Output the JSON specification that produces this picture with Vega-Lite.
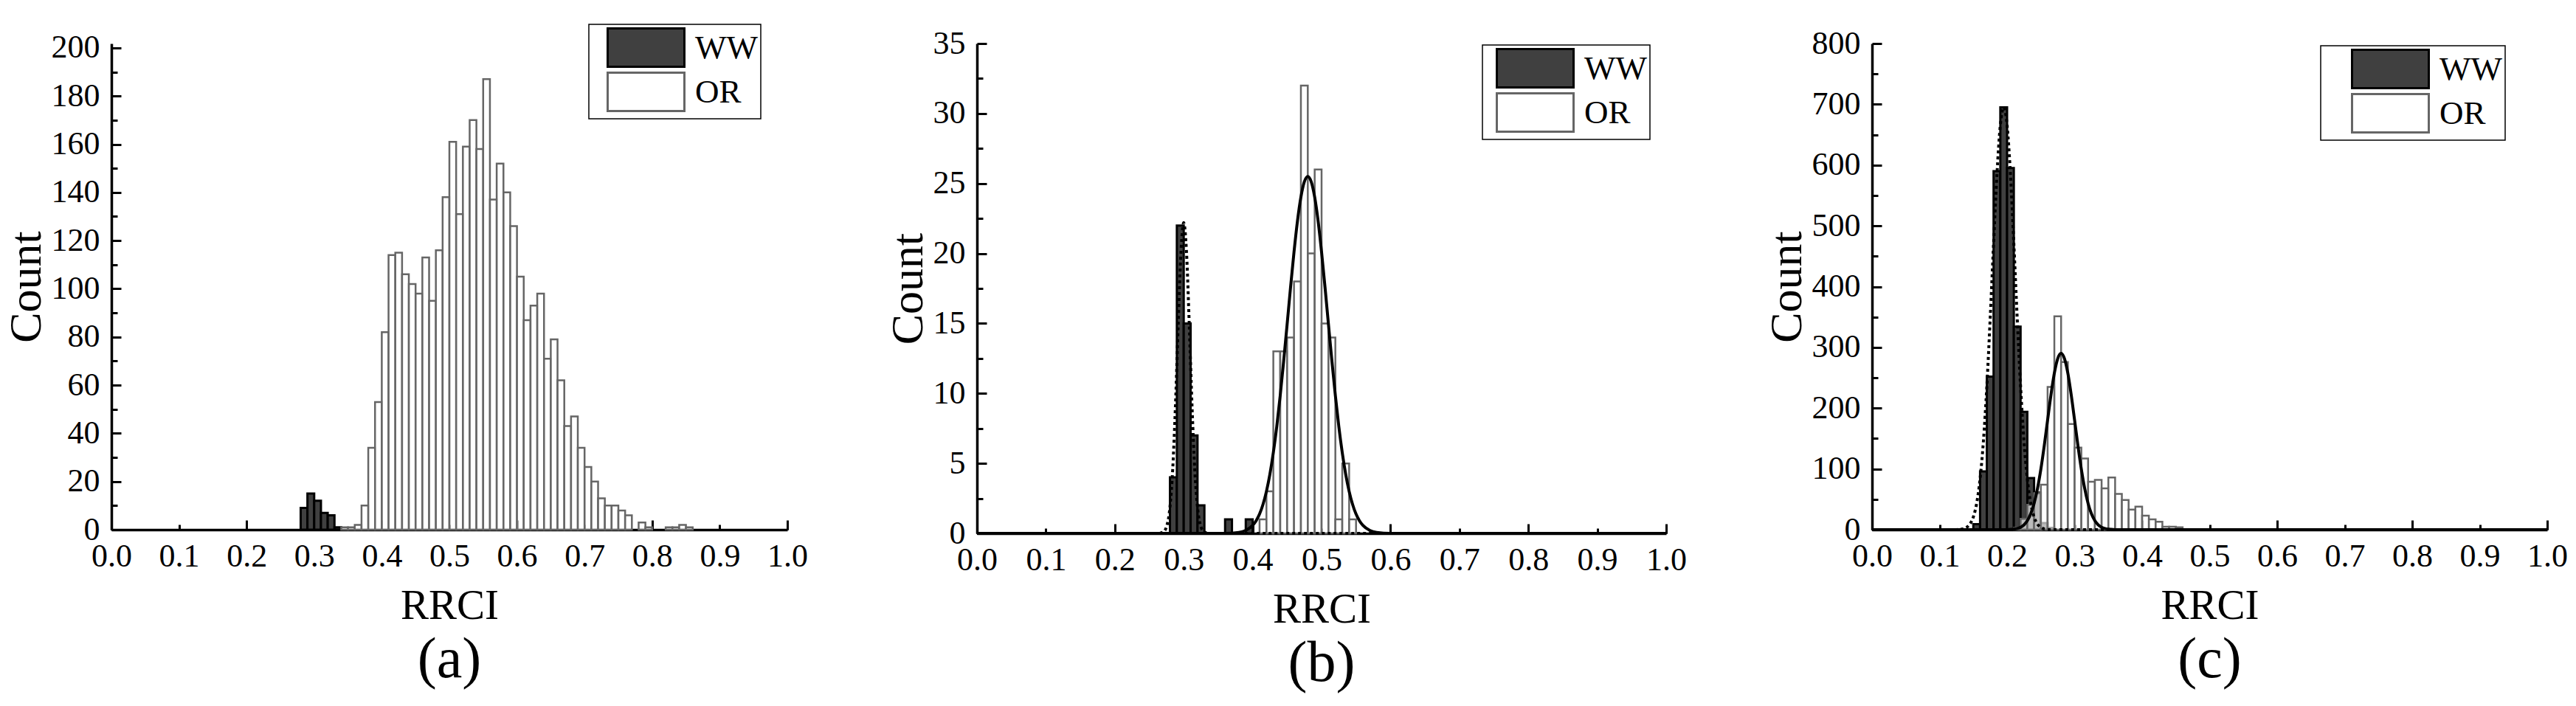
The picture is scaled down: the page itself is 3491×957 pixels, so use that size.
{
  "$schema": "https://vega.github.io/schema/vega-lite/v6.json",
  "background": "white",
  "padding": {"left": 4, "top": 32, "right": 4, "bottom": 4},
  "spacing": 104,
  "config": {
    "view": {"stroke": null},
    "font": "Liberation Serif",
    "axis": {
      "domainColor": "black", "domainWidth": 3.5, "tickColor": "black", "tickWidth": 3,
      "labelFont": "Liberation Serif", "labelFontSize": 44, "labelColor": "black",
      "titleFont": "Liberation Serif", "titleFontSize": 57, "titleFontWeight": "normal", "titleColor": "black",
      "labelFlush": false, "labelOverlap": false, "grid": false, "zindex": 1
    },
    "axisY": {"titleFontSize": 62},
    "legend": {
      "orient": "none", "strokeColor": "black", "strokeWidth": 1.5, "fillColor": "white",
      "padding": 4, "symbolStrokeWidth": 3, "labelOffset": 39,
      "labelFont": "Liberation Serif", "labelFontSize": 45, "labelColor": "black", "rowPadding": -10
    },
    "title": {"font": "Liberation Serif", "fontSize": 78, "fontWeight": "normal", "color": "black", "orient": "bottom", "anchor": "middle", "offset": 7}
  },
  "resolve": {
    "scale": {"fill": "independent", "stroke": "independent", "x": "independent", "y": "independent"},
    "legend": {"fill": "independent", "stroke": "independent"}
  },
  "datasets": {
    "a_bars": [
      {"group": "WW", "lo": 0.28, "hi": 0.29, "count": 9},
      {"group": "WW", "lo": 0.29, "hi": 0.30, "count": 15},
      {"group": "WW", "lo": 0.30, "hi": 0.31, "count": 12},
      {"group": "WW", "lo": 0.31, "hi": 0.32, "count": 7},
      {"group": "WW", "lo": 0.32, "hi": 0.33, "count": 6},
      {"group": "WW", "lo": 0.33, "hi": 0.34, "count": 1},
      {"group": "OR", "lo": 0.34, "hi": 0.35, "count": 1},
      {"group": "OR", "lo": 0.35, "hi": 0.36, "count": 1},
      {"group": "OR", "lo": 0.36, "hi": 0.37, "count": 2},
      {"group": "OR", "lo": 0.37, "hi": 0.38, "count": 10},
      {"group": "OR", "lo": 0.38, "hi": 0.39, "count": 34},
      {"group": "OR", "lo": 0.39, "hi": 0.40, "count": 53},
      {"group": "OR", "lo": 0.40, "hi": 0.41, "count": 82},
      {"group": "OR", "lo": 0.41, "hi": 0.42, "count": 114},
      {"group": "OR", "lo": 0.42, "hi": 0.43, "count": 115},
      {"group": "OR", "lo": 0.43, "hi": 0.44, "count": 106},
      {"group": "OR", "lo": 0.44, "hi": 0.45, "count": 102},
      {"group": "OR", "lo": 0.45, "hi": 0.46, "count": 98},
      {"group": "OR", "lo": 0.46, "hi": 0.47, "count": 113},
      {"group": "OR", "lo": 0.47, "hi": 0.48, "count": 95},
      {"group": "OR", "lo": 0.48, "hi": 0.49, "count": 116},
      {"group": "OR", "lo": 0.49, "hi": 0.50, "count": 138},
      {"group": "OR", "lo": 0.50, "hi": 0.51, "count": 161},
      {"group": "OR", "lo": 0.51, "hi": 0.52, "count": 131},
      {"group": "OR", "lo": 0.52, "hi": 0.53, "count": 159},
      {"group": "OR", "lo": 0.53, "hi": 0.54, "count": 170},
      {"group": "OR", "lo": 0.54, "hi": 0.55, "count": 158},
      {"group": "OR", "lo": 0.55, "hi": 0.56, "count": 187},
      {"group": "OR", "lo": 0.56, "hi": 0.57, "count": 137},
      {"group": "OR", "lo": 0.57, "hi": 0.58, "count": 152},
      {"group": "OR", "lo": 0.58, "hi": 0.59, "count": 140},
      {"group": "OR", "lo": 0.59, "hi": 0.60, "count": 126},
      {"group": "OR", "lo": 0.60, "hi": 0.61, "count": 105},
      {"group": "OR", "lo": 0.61, "hi": 0.62, "count": 87},
      {"group": "OR", "lo": 0.62, "hi": 0.63, "count": 93},
      {"group": "OR", "lo": 0.63, "hi": 0.64, "count": 98},
      {"group": "OR", "lo": 0.64, "hi": 0.65, "count": 71},
      {"group": "OR", "lo": 0.65, "hi": 0.66, "count": 79},
      {"group": "OR", "lo": 0.66, "hi": 0.67, "count": 62},
      {"group": "OR", "lo": 0.67, "hi": 0.68, "count": 43},
      {"group": "OR", "lo": 0.68, "hi": 0.69, "count": 47},
      {"group": "OR", "lo": 0.69, "hi": 0.70, "count": 34},
      {"group": "OR", "lo": 0.70, "hi": 0.71, "count": 26},
      {"group": "OR", "lo": 0.71, "hi": 0.72, "count": 20},
      {"group": "OR", "lo": 0.72, "hi": 0.73, "count": 13},
      {"group": "OR", "lo": 0.73, "hi": 0.74, "count": 10},
      {"group": "OR", "lo": 0.74, "hi": 0.75, "count": 10},
      {"group": "OR", "lo": 0.75, "hi": 0.76, "count": 8},
      {"group": "OR", "lo": 0.76, "hi": 0.77, "count": 6},
      {"group": "OR", "lo": 0.78, "hi": 0.79, "count": 3},
      {"group": "OR", "lo": 0.79, "hi": 0.80, "count": 1},
      {"group": "OR", "lo": 0.82, "hi": 0.83, "count": 1},
      {"group": "OR", "lo": 0.83, "hi": 0.84, "count": 1},
      {"group": "OR", "lo": 0.84, "hi": 0.85, "count": 2},
      {"group": "OR", "lo": 0.85, "hi": 0.86, "count": 1}
    ],
    "b_bars": [
      {"group": "WW", "lo": 0.28, "hi": 0.29, "count": 4},
      {"group": "WW", "lo": 0.29, "hi": 0.30, "count": 22},
      {"group": "WW", "lo": 0.30, "hi": 0.31, "count": 15},
      {"group": "WW", "lo": 0.31, "hi": 0.32, "count": 7},
      {"group": "WW", "lo": 0.32, "hi": 0.33, "count": 2},
      {"group": "WW", "lo": 0.36, "hi": 0.37, "count": 1},
      {"group": "WW", "lo": 0.39, "hi": 0.40, "count": 1},
      {"group": "OR", "lo": 0.41, "hi": 0.42, "count": 1},
      {"group": "OR", "lo": 0.42, "hi": 0.43, "count": 3},
      {"group": "OR", "lo": 0.43, "hi": 0.44, "count": 13},
      {"group": "OR", "lo": 0.44, "hi": 0.45, "count": 13},
      {"group": "OR", "lo": 0.45, "hi": 0.46, "count": 14},
      {"group": "OR", "lo": 0.46, "hi": 0.47, "count": 18},
      {"group": "OR", "lo": 0.47, "hi": 0.48, "count": 32},
      {"group": "OR", "lo": 0.48, "hi": 0.49, "count": 20},
      {"group": "OR", "lo": 0.49, "hi": 0.50, "count": 26},
      {"group": "OR", "lo": 0.50, "hi": 0.51, "count": 15},
      {"group": "OR", "lo": 0.51, "hi": 0.52, "count": 14},
      {"group": "OR", "lo": 0.52, "hi": 0.53, "count": 1},
      {"group": "OR", "lo": 0.53, "hi": 0.54, "count": 5},
      {"group": "OR", "lo": 0.54, "hi": 0.55, "count": 1}
    ],
    "c_bars": [
      {"group": "WW", "lo": 0.15, "hi": 0.16, "count": 9},
      {"group": "WW", "lo": 0.16, "hi": 0.17, "count": 96},
      {"group": "WW", "lo": 0.17, "hi": 0.18, "count": 252},
      {"group": "WW", "lo": 0.18, "hi": 0.19, "count": 590},
      {"group": "WW", "lo": 0.19, "hi": 0.20, "count": 695},
      {"group": "WW", "lo": 0.20, "hi": 0.21, "count": 595},
      {"group": "WW", "lo": 0.21, "hi": 0.22, "count": 334},
      {"group": "WW", "lo": 0.22, "hi": 0.23, "count": 194},
      {"group": "WW", "lo": 0.23, "hi": 0.24, "count": 85},
      {"group": "WW", "lo": 0.24, "hi": 0.25, "count": 61},
      {"group": "WW", "lo": 0.25, "hi": 0.26, "count": 11},
      {"group": "WW", "lo": 0.26, "hi": 0.27, "count": 3},
      {"group": "OR", "lo": 0.21, "hi": 0.22, "count": 3},
      {"group": "OR", "lo": 0.22, "hi": 0.23, "count": 18},
      {"group": "OR", "lo": 0.23, "hi": 0.24, "count": 41},
      {"group": "OR", "lo": 0.24, "hi": 0.25, "count": 60},
      {"group": "OR", "lo": 0.25, "hi": 0.26, "count": 74},
      {"group": "OR", "lo": 0.26, "hi": 0.27, "count": 235},
      {"group": "OR", "lo": 0.27, "hi": 0.28, "count": 351},
      {"group": "OR", "lo": 0.28, "hi": 0.29, "count": 276},
      {"group": "OR", "lo": 0.29, "hi": 0.30, "count": 174},
      {"group": "OR", "lo": 0.30, "hi": 0.31, "count": 135},
      {"group": "OR", "lo": 0.31, "hi": 0.32, "count": 117},
      {"group": "OR", "lo": 0.32, "hi": 0.33, "count": 79},
      {"group": "OR", "lo": 0.33, "hi": 0.34, "count": 82},
      {"group": "OR", "lo": 0.34, "hi": 0.35, "count": 68},
      {"group": "OR", "lo": 0.35, "hi": 0.36, "count": 86},
      {"group": "OR", "lo": 0.36, "hi": 0.37, "count": 59},
      {"group": "OR", "lo": 0.37, "hi": 0.38, "count": 49},
      {"group": "OR", "lo": 0.38, "hi": 0.39, "count": 33},
      {"group": "OR", "lo": 0.39, "hi": 0.40, "count": 38},
      {"group": "OR", "lo": 0.40, "hi": 0.41, "count": 23},
      {"group": "OR", "lo": 0.41, "hi": 0.42, "count": 17},
      {"group": "OR", "lo": 0.42, "hi": 0.43, "count": 13},
      {"group": "OR", "lo": 0.43, "hi": 0.44, "count": 5},
      {"group": "OR", "lo": 0.44, "hi": 0.45, "count": 5},
      {"group": "OR", "lo": 0.45, "hi": 0.46, "count": 4}
    ],
    "b_fit": [
      {"group": "WW", "x": 0.0, "count": 0},
      {"group": "WW", "x": 0.26, "count": 0},
      {"group": "WW", "x": 0.265, "count": 0.01},
      {"group": "WW", "x": 0.27, "count": 0.09},
      {"group": "WW", "x": 0.275, "count": 0.47},
      {"group": "WW", "x": 0.28, "count": 1.88},
      {"group": "WW", "x": 0.284, "count": 4.57},
      {"group": "WW", "x": 0.288, "count": 9.13},
      {"group": "WW", "x": 0.292, "count": 14.96},
      {"group": "WW", "x": 0.296, "count": 20.11},
      {"group": "WW", "x": 0.3, "count": 22.2},
      {"group": "WW", "x": 0.304, "count": 20.11},
      {"group": "WW", "x": 0.308, "count": 14.96},
      {"group": "WW", "x": 0.312, "count": 9.13},
      {"group": "WW", "x": 0.316, "count": 4.57},
      {"group": "WW", "x": 0.32, "count": 1.88},
      {"group": "WW", "x": 0.325, "count": 0.47},
      {"group": "WW", "x": 0.33, "count": 0.09},
      {"group": "WW", "x": 0.335, "count": 0.01},
      {"group": "WW", "x": 0.34, "count": 0},
      {"group": "WW", "x": 1.0, "count": 0},
      {"group": "OR", "x": 0.0, "count": 0},
      {"group": "OR", "x": 0.36, "count": 0.005},
      {"group": "OR", "x": 0.38, "count": 0.07},
      {"group": "OR", "x": 0.39, "count": 0.21},
      {"group": "OR", "x": 0.4, "count": 0.57},
      {"group": "OR", "x": 0.405, "count": 0.9},
      {"group": "OR", "x": 0.41, "count": 1.38},
      {"group": "OR", "x": 0.415, "count": 2.07},
      {"group": "OR", "x": 0.42, "count": 3.0},
      {"group": "OR", "x": 0.425, "count": 4.22},
      {"group": "OR", "x": 0.43, "count": 5.77},
      {"group": "OR", "x": 0.435, "count": 7.65},
      {"group": "OR", "x": 0.44, "count": 9.85},
      {"group": "OR", "x": 0.445, "count": 12.31},
      {"group": "OR", "x": 0.45, "count": 14.93},
      {"group": "OR", "x": 0.455, "count": 17.59},
      {"group": "OR", "x": 0.46, "count": 20.1},
      {"group": "OR", "x": 0.465, "count": 22.31},
      {"group": "OR", "x": 0.47, "count": 24.03},
      {"group": "OR", "x": 0.475, "count": 25.12},
      {"group": "OR", "x": 0.48, "count": 25.5},
      {"group": "OR", "x": 0.485, "count": 25.12},
      {"group": "OR", "x": 0.49, "count": 24.03},
      {"group": "OR", "x": 0.495, "count": 22.31},
      {"group": "OR", "x": 0.5, "count": 20.1},
      {"group": "OR", "x": 0.505, "count": 17.59},
      {"group": "OR", "x": 0.51, "count": 14.93},
      {"group": "OR", "x": 0.515, "count": 12.31},
      {"group": "OR", "x": 0.52, "count": 9.85},
      {"group": "OR", "x": 0.525, "count": 7.65},
      {"group": "OR", "x": 0.53, "count": 5.77},
      {"group": "OR", "x": 0.535, "count": 4.22},
      {"group": "OR", "x": 0.54, "count": 3.0},
      {"group": "OR", "x": 0.545, "count": 2.07},
      {"group": "OR", "x": 0.55, "count": 1.38},
      {"group": "OR", "x": 0.555, "count": 0.9},
      {"group": "OR", "x": 0.56, "count": 0.57},
      {"group": "OR", "x": 0.57, "count": 0.21},
      {"group": "OR", "x": 0.58, "count": 0.07},
      {"group": "OR", "x": 0.6, "count": 0.005},
      {"group": "OR", "x": 1.0, "count": 0}
    ],
    "c_fit": [
      {"group": "WW", "x": 0.0, "count": 0},
      {"group": "WW", "x": 0.12, "count": 0.04},
      {"group": "WW", "x": 0.125, "count": 0.1},
      {"group": "WW", "x": 0.135, "count": 1.4},
      {"group": "WW", "x": 0.14, "count": 3.7},
      {"group": "WW", "x": 0.145, "count": 9.2},
      {"group": "WW", "x": 0.15, "count": 20.9},
      {"group": "WW", "x": 0.155, "count": 43.6},
      {"group": "WW", "x": 0.16, "count": 83.5},
      {"group": "WW", "x": 0.165, "count": 146.5},
      {"group": "WW", "x": 0.17, "count": 235.7},
      {"group": "WW", "x": 0.175, "count": 347.8},
      {"group": "WW", "x": 0.18, "count": 470.9},
      {"group": "WW", "x": 0.185, "count": 584.6},
      {"group": "WW", "x": 0.19, "count": 665.6},
      {"group": "WW", "x": 0.195, "count": 695},
      {"group": "WW", "x": 0.2, "count": 665.6},
      {"group": "WW", "x": 0.205, "count": 584.6},
      {"group": "WW", "x": 0.21, "count": 470.9},
      {"group": "WW", "x": 0.215, "count": 347.8},
      {"group": "WW", "x": 0.22, "count": 235.7},
      {"group": "WW", "x": 0.225, "count": 146.5},
      {"group": "WW", "x": 0.23, "count": 83.5},
      {"group": "WW", "x": 0.235, "count": 43.6},
      {"group": "WW", "x": 0.24, "count": 20.9},
      {"group": "WW", "x": 0.245, "count": 9.2},
      {"group": "WW", "x": 0.25, "count": 3.7},
      {"group": "WW", "x": 0.255, "count": 1.4},
      {"group": "WW", "x": 0.265, "count": 0.1},
      {"group": "WW", "x": 0.27, "count": 0.04},
      {"group": "WW", "x": 1.0, "count": 0},
      {"group": "OR", "x": 0.0, "count": 0},
      {"group": "OR", "x": 0.19, "count": 0.02},
      {"group": "OR", "x": 0.2, "count": 0.14},
      {"group": "OR", "x": 0.21, "count": 0.85},
      {"group": "OR", "x": 0.215, "count": 1.9},
      {"group": "OR", "x": 0.22, "count": 4.0},
      {"group": "OR", "x": 0.225, "count": 7.9},
      {"group": "OR", "x": 0.23, "count": 14.8},
      {"group": "OR", "x": 0.235, "count": 26.0},
      {"group": "OR", "x": 0.24, "count": 43.2},
      {"group": "OR", "x": 0.245, "count": 67.5},
      {"group": "OR", "x": 0.25, "count": 99.4},
      {"group": "OR", "x": 0.255, "count": 137.8},
      {"group": "OR", "x": 0.26, "count": 180.2},
      {"group": "OR", "x": 0.265, "count": 221.9},
      {"group": "OR", "x": 0.27, "count": 257.5},
      {"group": "OR", "x": 0.275, "count": 281.5},
      {"group": "OR", "x": 0.28, "count": 290},
      {"group": "OR", "x": 0.285, "count": 281.5},
      {"group": "OR", "x": 0.29, "count": 257.5},
      {"group": "OR", "x": 0.295, "count": 221.9},
      {"group": "OR", "x": 0.3, "count": 180.2},
      {"group": "OR", "x": 0.305, "count": 137.8},
      {"group": "OR", "x": 0.31, "count": 99.4},
      {"group": "OR", "x": 0.315, "count": 67.5},
      {"group": "OR", "x": 0.32, "count": 43.2},
      {"group": "OR", "x": 0.325, "count": 26.0},
      {"group": "OR", "x": 0.33, "count": 14.8},
      {"group": "OR", "x": 0.335, "count": 7.9},
      {"group": "OR", "x": 0.34, "count": 4.0},
      {"group": "OR", "x": 0.345, "count": 1.9},
      {"group": "OR", "x": 0.35, "count": 0.85},
      {"group": "OR", "x": 0.36, "count": 0.14},
      {"group": "OR", "x": 0.37, "count": 0.02},
      {"group": "OR", "x": 1.0, "count": 0}
    ]
  },
  "hconcat": [
    {
      "width": 916, "height": 659,
      "title": "(a)",
      "resolve": {"axis": {"x": "independent", "y": "independent"}},
      "layer": [
        {
          "data": {"name": "a_bars"},
          "transform": [{"filter": "datum.group === 'WW'"}],
          "mark": {"type": "bar", "strokeWidth": 3},
          "encoding": {
            "x": {"field": "lo", "type": "quantitative", "scale": {"domain": [0, 1], "nice": false, "zero": false},
                  "axis": {"title": "RRCI", "values": [0, 0.1, 0.2, 0.3, 0.4, 0.5, 0.6, 0.7, 0.8, 0.9, 1.0], "format": ".1f", "tickSize": -7, "labelPadding": 21, "titlePadding": 17}},
            "x2": {"field": "hi"},
            "y": {"field": "count", "type": "quantitative", "scale": {"domain": [0, 201.8], "nice": false},
                  "axis": {"title": "Count", "values": [0, 20, 40, 60, 80, 100, 120, 140, 160, 180, 200], "tickSize": -13, "labelPadding": 29, "titlePadding": 2}},
            "y2": {"datum": 0},
            "fill": {"field": "group", "type": "nominal", "scale": {"domain": ["WW", "OR"], "range": ["#404040", "#ffffff"]},
                     "legend": {"title": null, "symbolType": "M-2,-1H2V1H-2Z", "symbolSize": 2704, "symbolOffset": 46, "legendX": 647, "legendY": -26, "labelExpr": "datum.label + '\u00a0\u00a0\u00a0'"}},
            "stroke": {"field": "group", "type": "nominal", "scale": {"domain": ["WW", "OR"], "range": ["#000000", "#666666"]},
                       "legend": {"title": null, "symbolType": "M-2,-1H2V1H-2Z", "symbolSize": 2704, "symbolOffset": 46, "legendX": 647, "legendY": -26, "labelExpr": "datum.label + '\u00a0\u00a0\u00a0'"}}
          }
        },
        {
          "data": {"name": "a_bars"},
          "transform": [{"filter": "datum.group === 'OR'"}],
          "mark": {"type": "bar", "strokeWidth": 2.5, "fillOpacity": 0.65},
          "encoding": {
            "x": {"field": "lo", "type": "quantitative", "scale": {"domain": [0, 1], "nice": false, "zero": false},
                  "axis": {"orient": "bottom", "values": [0, 0.2, 0.4, 0.6, 0.8, 1.0], "tickSize": -13, "labels": false, "domain": false, "title": null}},
            "x2": {"field": "hi"},
            "y": {"field": "count", "type": "quantitative", "scale": {"domain": [0, 201.8], "nice": false},
                  "axis": {"orient": "left", "values": [10, 30, 50, 70, 90, 110, 130, 150, 170, 190], "tickSize": -8, "labels": false, "domain": false, "title": null}},
            "y2": {"datum": 0},
            "fill": {"field": "group", "type": "nominal", "scale": {"domain": ["WW", "OR"], "range": ["#404040", "#ffffff"]}},
            "stroke": {"field": "group", "type": "nominal", "scale": {"domain": ["WW", "OR"], "range": ["#000000", "#666666"]}}
          }
        }
      ]
    },
    {
      "width": 934, "height": 664,
      "title": "(b)",
      "resolve": {"axis": {"x": "independent", "y": "independent"}},
      "layer": [
        {
          "data": {"name": "b_bars"},
          "transform": [{"filter": "datum.group === 'WW'"}],
          "mark": {"type": "bar", "strokeWidth": 3},
          "encoding": {
            "x": {"field": "lo", "type": "quantitative", "scale": {"domain": [0, 1], "nice": false, "zero": false},
                  "axis": {"title": "RRCI", "values": [0, 0.1, 0.2, 0.3, 0.4, 0.5, 0.6, 0.7, 0.8, 0.9, 1.0], "format": ".1f", "tickSize": -7, "labelPadding": 21, "titlePadding": 17}},
            "x2": {"field": "hi"},
            "y": {"field": "count", "type": "quantitative", "scale": {"domain": [0, 35], "nice": false},
                  "axis": {"title": "Count", "values": [0, 5, 10, 15, 20, 25, 30, 35], "tickSize": -13, "labelPadding": 29, "titlePadding": 2}},
            "y2": {"datum": 0},
            "fill": {"field": "group", "type": "nominal", "scale": {"domain": ["WW", "OR"], "range": ["#404040", "#ffffff"]},
                     "legend": {"title": null, "symbolType": "M-2,-1H2V1H-2Z", "symbolSize": 2704, "symbolOffset": 40, "legendX": 685, "legendY": 2, "labelExpr": "datum.label + '\u00a0\u00a0'"}},
            "stroke": {"field": "group", "type": "nominal", "scale": {"domain": ["WW", "OR"], "range": ["#000000", "#666666"]},
                       "legend": {"title": null, "symbolType": "M-2,-1H2V1H-2Z", "symbolSize": 2704, "symbolOffset": 40, "legendX": 685, "legendY": 2, "labelExpr": "datum.label + '\u00a0\u00a0'"}}
          }
        },
        {
          "data": {"name": "b_bars"},
          "transform": [{"filter": "datum.group === 'OR'"}],
          "mark": {"type": "bar", "strokeWidth": 2.5, "fillOpacity": 0.65},
          "encoding": {
            "x": {"field": "lo", "type": "quantitative", "scale": {"domain": [0, 1], "nice": false, "zero": false},
                  "axis": {"orient": "bottom", "values": [0, 0.2, 0.4, 0.6, 0.8, 1.0], "tickSize": -13, "labels": false, "domain": false, "title": null}},
            "x2": {"field": "hi"},
            "y": {"field": "count", "type": "quantitative", "scale": {"domain": [0, 35], "nice": false},
                  "axis": {"orient": "left", "values": [2.5, 7.5, 12.5, 17.5, 22.5, 27.5, 32.5], "tickSize": -8, "labels": false, "domain": false, "title": null}},
            "y2": {"datum": 0},
            "fill": {"field": "group", "type": "nominal", "scale": {"domain": ["WW", "OR"], "range": ["#404040", "#ffffff"]}},
            "stroke": {"field": "group", "type": "nominal", "scale": {"domain": ["WW", "OR"], "range": ["#000000", "#666666"]}}
          }
        },
        {
          "data": {"name": "b_fit"},
          "transform": [{"filter": "datum.group === 'WW'"}],
          "mark": {"type": "line", "stroke": "black", "strokeWidth": 4, "strokeDash": [4, 4], "interpolate": "monotone"},
          "encoding": {
            "x": {"field": "x", "type": "quantitative", "axis": null},
            "y": {"field": "count", "type": "quantitative", "axis": null}
          }
        },
        {
          "data": {"name": "b_fit"},
          "transform": [{"filter": "datum.group === 'OR'"}],
          "mark": {"type": "line", "stroke": "black", "strokeWidth": 4, "interpolate": "monotone"},
          "encoding": {
            "x": {"field": "x", "type": "quantitative", "axis": null},
            "y": {"field": "count", "type": "quantitative", "axis": null}
          }
        }
      ]
    },
    {
      "width": 915, "height": 659,
      "title": "(c)",
      "resolve": {"axis": {"x": "independent", "y": "independent"}},
      "layer": [
        {
          "data": {"name": "c_bars"},
          "transform": [{"filter": "datum.group === 'WW'"}],
          "mark": {"type": "bar", "strokeWidth": 3},
          "encoding": {
            "x": {"field": "lo", "type": "quantitative", "scale": {"domain": [0, 1], "nice": false, "zero": false},
                  "axis": {"title": "RRCI", "values": [0, 0.1, 0.2, 0.3, 0.4, 0.5, 0.6, 0.7, 0.8, 0.9, 1.0], "format": ".1f", "tickSize": -7, "labelPadding": 21, "titlePadding": 17}},
            "x2": {"field": "hi"},
            "y": {"field": "count", "type": "quantitative", "scale": {"domain": [0, 800], "nice": false},
                  "axis": {"title": "Count", "values": [0, 100, 200, 300, 400, 500, 600, 700, 800], "tickSize": -13, "labelPadding": 29, "titlePadding": 2}},
            "y2": {"datum": 0},
            "fill": {"field": "group", "type": "nominal", "scale": {"domain": ["WW", "OR"], "range": ["#404040", "#ffffff"]},
                     "legend": {"title": null, "symbolType": "M-2,-1H2V1H-2Z", "symbolSize": 2704, "symbolOffset": 63, "legendX": 608, "legendY": 3, "labelExpr": "datum.label + '\u00a0\u00a0\u00a0\u00a0\u00a0'"}},
            "stroke": {"field": "group", "type": "nominal", "scale": {"domain": ["WW", "OR"], "range": ["#000000", "#666666"]},
                       "legend": {"title": null, "symbolType": "M-2,-1H2V1H-2Z", "symbolSize": 2704, "symbolOffset": 63, "legendX": 608, "legendY": 3, "labelExpr": "datum.label + '\u00a0\u00a0\u00a0\u00a0\u00a0'"}}
          }
        },
        {
          "data": {"name": "c_bars"},
          "transform": [{"filter": "datum.group === 'OR'"}],
          "mark": {"type": "bar", "strokeWidth": 2.5, "fillOpacity": 0.65},
          "encoding": {
            "x": {"field": "lo", "type": "quantitative", "scale": {"domain": [0, 1], "nice": false, "zero": false},
                  "axis": {"orient": "bottom", "values": [0, 0.2, 0.4, 0.6, 0.8, 1.0], "tickSize": -13, "labels": false, "domain": false, "title": null}},
            "x2": {"field": "hi"},
            "y": {"field": "count", "type": "quantitative", "scale": {"domain": [0, 800], "nice": false},
                  "axis": {"orient": "left", "values": [50, 150, 250, 350, 450, 550, 650, 750], "tickSize": -8, "labels": false, "domain": false, "title": null}},
            "y2": {"datum": 0},
            "fill": {"field": "group", "type": "nominal", "scale": {"domain": ["WW", "OR"], "range": ["#404040", "#ffffff"]}},
            "stroke": {"field": "group", "type": "nominal", "scale": {"domain": ["WW", "OR"], "range": ["#000000", "#666666"]}}
          }
        },
        {
          "data": {"name": "c_fit"},
          "transform": [{"filter": "datum.group === 'WW'"}],
          "mark": {"type": "line", "stroke": "black", "strokeWidth": 4, "strokeDash": [4, 4], "interpolate": "monotone"},
          "encoding": {
            "x": {"field": "x", "type": "quantitative", "axis": null},
            "y": {"field": "count", "type": "quantitative", "axis": null}
          }
        },
        {
          "data": {"name": "c_fit"},
          "transform": [{"filter": "datum.group === 'OR'"}],
          "mark": {"type": "line", "stroke": "black", "strokeWidth": 4, "interpolate": "monotone"},
          "encoding": {
            "x": {"field": "x", "type": "quantitative", "axis": null},
            "y": {"field": "count", "type": "quantitative", "axis": null}
          }
        }
      ]
    }
  ]
}
